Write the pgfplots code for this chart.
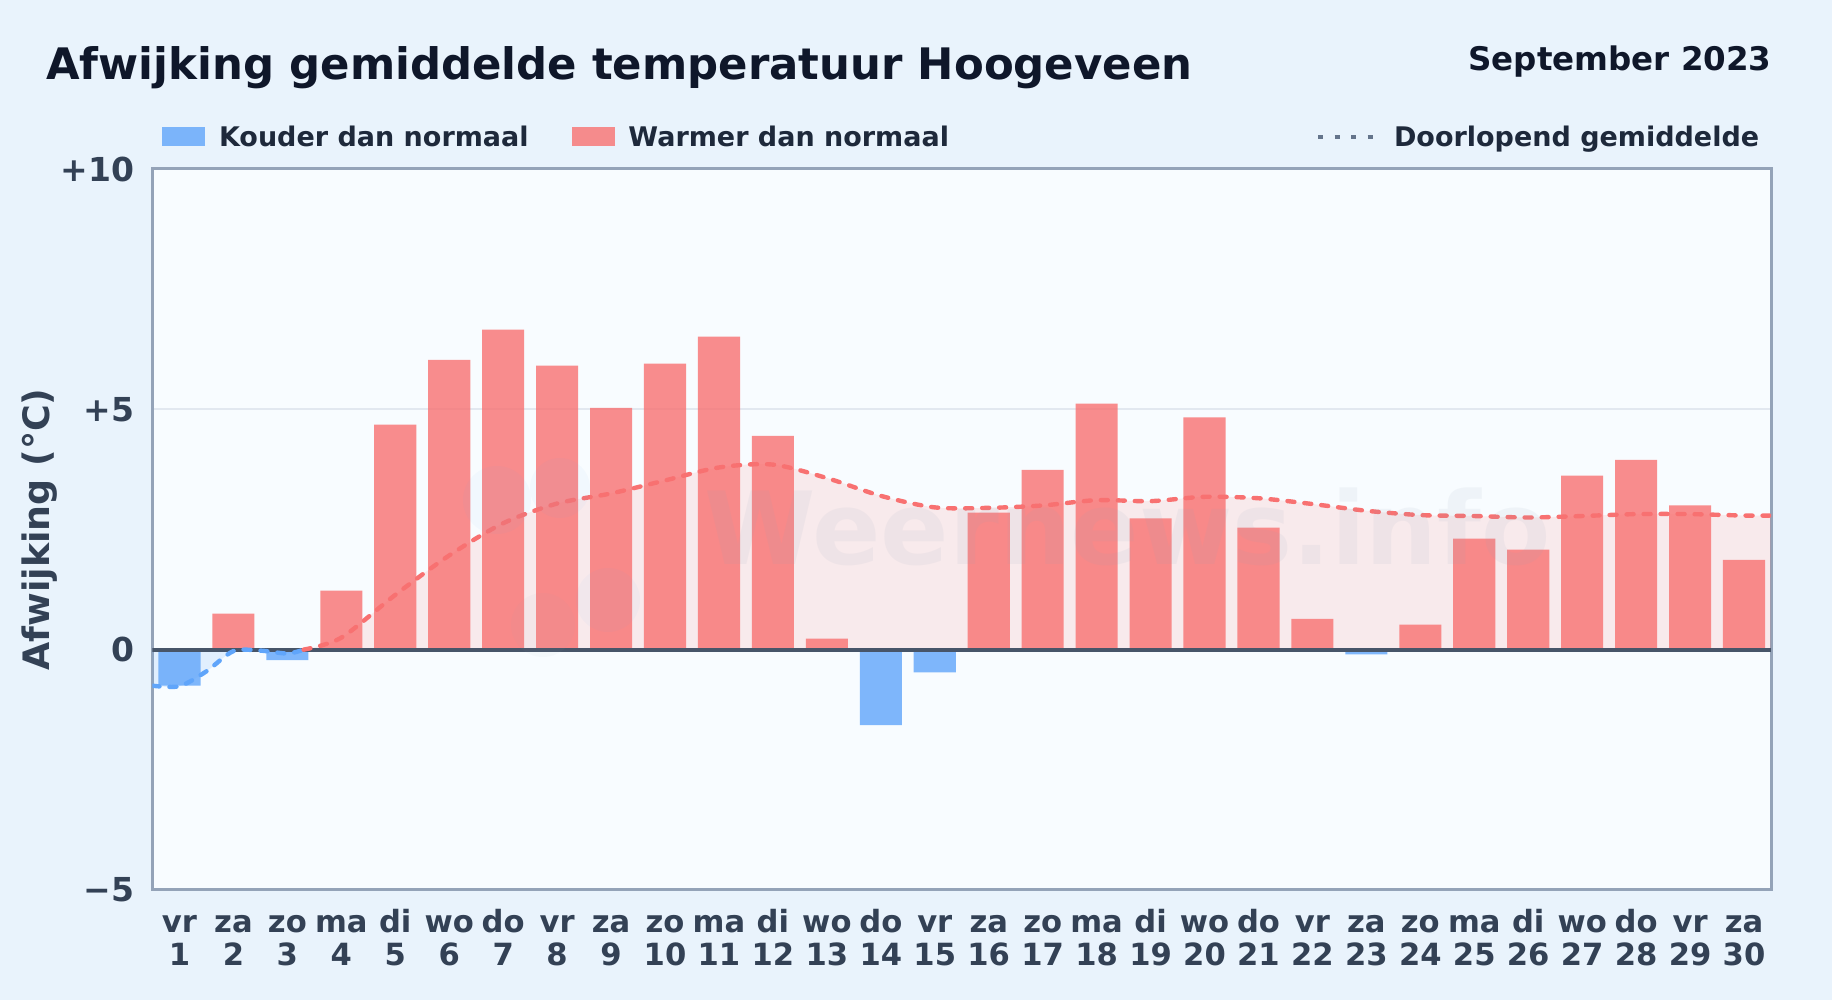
\documentclass[border=0pt]{standalone}
\usepackage{fontspec}
\usepackage{pgfplots}
\pgfplotsset{compat=1.18}
\setmainfont{DejaVu Sans}
\definecolor{pagebg}{HTML}{E9F3FC}
\definecolor{panel}{HTML}{F8FCFF}
\definecolor{ink}{HTML}{0F172A}
\definecolor{legendink}{HTML}{1E293B}
\definecolor{tickink}{HTML}{334155}
\definecolor{frame}{HTML}{94A3B8}
\definecolor{coldc}{HTML}{60A5FA}
\definecolor{warmc}{HTML}{F87171}
\definecolor{zeroc}{HTML}{475569}
\definecolor{gridc}{HTML}{E2E8F0}
\definecolor{dotc}{HTML}{64748B}
\newcommand\dl[2]{\rule{0pt}{11.5pt}#1\\#2}

% daily departures, split by sign
\pgfplotstableread{
day val
2 0.75
4 1.23
5 4.68
6 6.03
7 6.66
8 5.91
9 5.03
10 5.95
11 6.51
12 4.45
13 0.23
16 2.85
17 3.74
18 5.12
19 2.73
20 4.83
21 2.54
22 0.64
24 0.52
25 2.31
26 2.08
27 3.62
28 3.95
29 3.00
30 1.87
}\warmdays
\pgfplotstableread{
day val
1 -0.75
3 -0.22
14 -1.57
15 -0.47
23 -0.10
}\colddays
% running mean, below and above zero
\pgfplotstableread{
day val
0.5 -0.75
1 -0.76
1.5 -0.45
2 -0.03
2.5 -0.02
3 -0.08
3.3 0
}\meancold
\pgfplotstableread{
day val
3.3 0
4 0.25
5 1.14
6 1.96
7 2.63
8 3.04
9 3.25
10 3.52
11 3.79
12 3.85
13 3.57
14 3.20
15 2.96
16 2.95
17 3.00
18 3.11
19 3.09
20 3.18
21 3.15
22 3.03
23 2.89
24 2.80
25 2.78
26 2.75
27 2.78
28 2.82
29 2.82
30 2.79
30.5 2.79
}\meanwarm

\begin{document}
\begin{tikzpicture}
\useasboundingbox (0pt,0pt) rectangle (916pt,500pt);
\fill[pagebg] (0pt,0pt) rectangle (916pt,500pt);
\node[anchor=base west,font=\bfseries\fontsize{21.7}{25}\selectfont,text=ink,inner sep=0pt] at (23pt,460.1pt) {Afwijking gemiddelde temperatuur Hoogeveen};
\node[anchor=base east,font=\bfseries\fontsize{16.25}{19}\selectfont,text=ink,inner sep=0pt] at (886pt,464.5pt) {September 2023};
\begin{axis}[
    at={(76.25pt,55pt)}, anchor=south west,
    scale only axis, width=809.25pt, height=360.5pt,
    xmin=0.5, xmax=30.5, ymin=-5, ymax=10,
    axis background/.style={fill=panel},
    axis line style={frame,line width=1.5pt},
    tick style={draw=none},
    ytick={-5,0,5,10},
    yticklabels={−5,0,+5,+10},
    ymajorgrids,
    grid style={gridc,line width=1pt},
    xtick={1,...,30},
    xticklabels={{\dl{vr}{1}},{\dl{za}{2}},{\dl{zo}{3}},{\dl{ma}{4}},{\dl{di}{5}},{\dl{wo}{6}},{\dl{do}{7}},{\dl{vr}{8}},{\dl{za}{9}},{\dl{zo}{10}},{\dl{ma}{11}},{\dl{di}{12}},{\dl{wo}{13}},{\dl{do}{14}},{\dl{vr}{15}},{\dl{za}{16}},{\dl{zo}{17}},{\dl{ma}{18}},{\dl{di}{19}},{\dl{wo}{20}},{\dl{do}{21}},{\dl{vr}{22}},{\dl{za}{23}},{\dl{zo}{24}},{\dl{ma}{25}},{\dl{di}{26}},{\dl{wo}{27}},{\dl{do}{28}},{\dl{vr}{29}},{\dl{za}{30}}},
    x tick label style={align=center,font=\bfseries\fontsize{15.3}{16.7}\selectfont,text=tickink,yshift=-6pt},
    y tick label style={font=\bfseries\fontsize{16.5}{19}\selectfont,text=tickink,xshift=-5.5pt},
    ylabel={Afwijking (°C)},
    ylabel style={font=\bfseries\fontsize{18.2}{21}\selectfont,text=tickink,at={(axis description cs:0,0.5)},anchor=center,yshift=56.25pt},
    clip=true,
    legend columns=-1,
    legend cell align=left,
    legend style={draw=none,fill=none,at={(0,1)},anchor=south west,xshift=1.75pt,yshift=5.5pt,
        font=\bfseries\fontsize{13.5}{16}\selectfont,text=legendink,
        /tikz/every even column/.style={column sep=19.6pt},
        /tikz/every odd column/.style={column sep=4.8pt}},
    legend image code/.code={\fill[#1] (0pt,-4.25pt) rectangle (21.5pt,5.25pt);},
]
\addplot[fill=warmc,fill opacity=0.13,draw=none,smooth,tension=0.5,forget plot] table[x=day,y=val] {\meanwarm} \closedcycle;
\addplot[fill=coldc,fill opacity=0.15,draw=none,smooth,tension=0.5,forget plot] table[x=day,y=val] {\meancold} \closedcycle;
\addplot[ybar,bar width=0.78,bar shift=0pt,draw=none,fill=coldc,fill opacity=0.8] table[x=day,y=val] {\colddays};
\addplot[ybar,bar width=0.78,bar shift=0pt,draw=none,fill=warmc,fill opacity=0.8] table[x=day,y=val] {\warmdays};
\addlegendimage{legend image code/.code={\draw[dotc,line width=2pt,dash pattern=on 2.5pt off 5.75pt] (0pt,0.5pt) -- (28pt,0.5pt); \path (31pt,0pt);}}
\addplot[zeroc,line width=2pt,forget plot] coordinates {(0.5,0) (30.5,0)};
\addplot[coldc,line width=2.2pt,smooth,tension=0.5,line cap=round,dash pattern=on 3.5pt off 5pt,forget plot] table[x=day,y=val] {\meancold};
\addplot[warmc,line width=2.2pt,smooth,tension=0.5,line cap=round,dash pattern=on 3.5pt off 5pt,forget plot] table[x=day,y=val] {\meanwarm};
\legend{Kouder dan normaal,Warmer dan normaal\rule{161.9pt}{0pt},Doorlopend gemiddelde}
\end{axis}
% faint watermark over the plot
\begin{scope}[opacity=0.045]
\fill[coldc] (248.5pt,250pt) circle (17pt);
\fill[coldc] (280pt,256pt) circle (15pt);
\fill[coldc] (304pt,200pt) circle (16pt);
\fill[frame] (271.5pt,187.5pt) circle (16pt);
\end{scope}
\node[anchor=base west,inner sep=0pt,font=\bfseries\fontsize{50.5}{54}\selectfont,text=frame,opacity=0.09] at (352pt,217.5pt) {Weernews.info};
\end{tikzpicture}
\end{document}
